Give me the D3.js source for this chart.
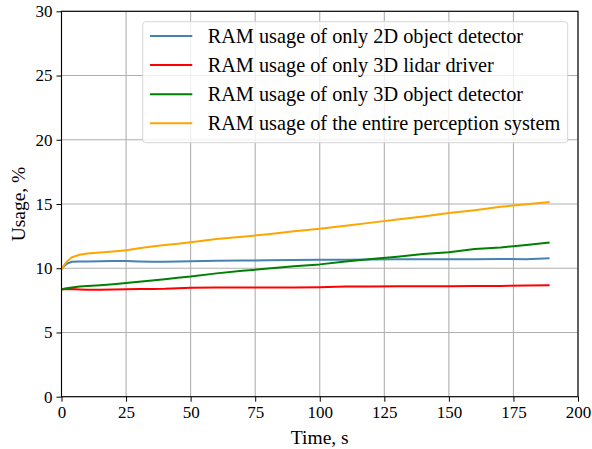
<!DOCTYPE html>
<html>
<head>
<meta charset="utf-8">
<script src="https://cdn.jsdelivr.net/npm/d3@7"></script>
<style>
  body { margin: 0; background: #fff; }
  text { font-family: "Liberation Serif", "Times New Roman", serif; fill: #000; }
</style>
</head>
<body>
<div id="chart"></div>
<script>
var time = [0, 1, 2, 4, 7, 10, 15, 20, 25, 30, 35, 40, 45, 50, 60, 70, 80, 90, 100, 110, 120, 130, 140, 150, 160, 170, 180, 189];

var ram2d = [9.95, 10.15, 10.35, 10.5, 10.52, 10.53, 10.55, 10.56, 10.57, 10.53, 10.5, 10.5, 10.52, 10.55, 10.58, 10.6, 10.62, 10.65, 10.66, 10.67, 10.68, 10.7, 10.7, 10.7, 10.7, 10.72, 10.7, 10.77];
var ramLidar = [8.35, 8.36, 8.37, 8.38, 8.35, 8.33, 8.32, 8.35, 8.37, 8.38, 8.38, 8.4, 8.45, 8.48, 8.5, 8.5, 8.5, 8.5, 8.52, 8.57, 8.58, 8.6, 8.6, 8.6, 8.62, 8.62, 8.65, 8.67];
var ram3d = [8.35, 8.4, 8.45, 8.5, 8.57, 8.62, 8.68, 8.76, 8.85, 8.95, 9.05, 9.15, 9.25, 9.35, 9.6, 9.8, 9.97, 10.15, 10.3, 10.52, 10.72, 10.9, 11.1, 11.25, 11.5, 11.62, 11.8, 12.0];
var ramAll = [9.9, 10.25, 10.5, 10.85, 11.05, 11.15, 11.22, 11.3, 11.4, 11.55, 11.7, 11.8, 11.9, 12.03, 12.28, 12.45, 12.65, 12.88, 13.08, 13.3, 13.55, 13.8, 14.03, 14.3, 14.52, 14.78, 14.98, 15.16];

var seriesNames = ["RAM usage of only 2D object detector", "RAM usage of only 3D lidar driver", "RAM usage of only 3D object detector", "RAM usage of the entire perception system"];
var seriesValues = [ram2d, ramLidar, ram3d, ramAll];
var seriesColors = ["#4682b4", "#ff0000", "#008000", "#ffa500"];

var xTicks = [0, 25, 50, 75, 100, 125, 150, 175, 200];
var yTicks = [0, 5, 10, 15, 20, 25, 30];

var w = 592, h = 449;
var m = {left: 61.5, right: 14, top: 11.3, bottom: 52.3};

var svg = d3.select("#chart").append("svg")
    .attr("width", w)
    .attr("height", h);

var x = d3.scaleLinear().domain([0, 200]).range([m.left, w - m.right]);
var y = d3.scaleLinear().domain([0, 30]).range([h - m.bottom, m.top]);

// grid
svg.append("g").selectAll("line").data(xTicks).enter().append("line")
    .attr("x1", d => x(d)).attr("x2", d => x(d))
    .attr("y1", y(0)).attr("y2", y(30))
    .attr("stroke", "#b0b0b0").attr("stroke-width", 1.1);
svg.append("g").selectAll("line").data(yTicks).enter().append("line")
    .attr("x1", x(0)).attr("x2", x(200))
    .attr("y1", d => y(d)).attr("y2", d => y(d))
    .attr("stroke", "#b0b0b0").attr("stroke-width", 1.1);

// lines
var line = d3.line().x((d, i) => x(time[i])).y(d => y(d));
seriesValues.forEach(function(vals, k) {
    svg.append("path").datum(vals)
        .attr("d", line)
        .attr("fill", "none")
        .attr("stroke", seriesColors[k])
        .attr("stroke-width", 2)
        .attr("stroke-linejoin", "round");
});

// axes
var xAxis = svg.append("g").attr("transform", "translate(0," + y(0) + ")")
    .call(d3.axisBottom(x).tickValues(xTicks).tickSize(5).tickPadding(4).tickSizeOuter(0));
var yAxis = svg.append("g").attr("transform", "translate(" + x(0) + ",0)")
    .call(d3.axisLeft(y).tickValues(yTicks).tickSize(5).tickPadding(4).tickSizeOuter(0));
[xAxis, yAxis].forEach(function(a) {
    a.attr("font-family", "Liberation Serif").attr("font-size", 17);
    a.selectAll("text").attr("font-size", "17px");
    a.selectAll("line").attr("stroke", "#000").attr("stroke-width", 1);
    a.select(".domain").remove();
});

// frame
svg.append("rect")
    .attr("x", x(0)).attr("y", y(30))
    .attr("width", x(200) - x(0)).attr("height", y(0) - y(30))
    .attr("fill", "none").attr("stroke", "#000").attr("stroke-width", 1.1);

// axis labels
svg.append("text").text("Time, s")
    .attr("x", (x(0) + x(200)) / 2).attr("y", 444)
    .attr("text-anchor", "middle").attr("font-size", "19.5px");
svg.append("text").text("Usage, %")
    .attr("transform", "translate(25," + ((y(0) + y(30)) / 2) + ") rotate(-90)")
    .attr("text-anchor", "middle").attr("font-size", "19.5px");

// legend
var lg = svg.append("g");
lg.append("rect")
    .attr("x", 142.7).attr("y", 21.7).attr("width", 425).attr("height", 121)
    .attr("rx", 3).attr("fill", "#fff").attr("fill-opacity", 0.8)
    .attr("stroke", "#d6d6d6").attr("stroke-width", 1);
seriesNames.forEach(function(name, k) {
    var ry = 36 + k * 29.1;
    lg.append("line").attr("x1", 150).attr("x2", 192.3).attr("y1", ry).attr("y2", ry)
        .attr("stroke", seriesColors[k]).attr("stroke-width", 2);
    lg.append("text").text(name).attr("x", 207.7).attr("y", ry + 6.5).attr("font-size", "20.3px");
});
</script>
</body>
</html>
